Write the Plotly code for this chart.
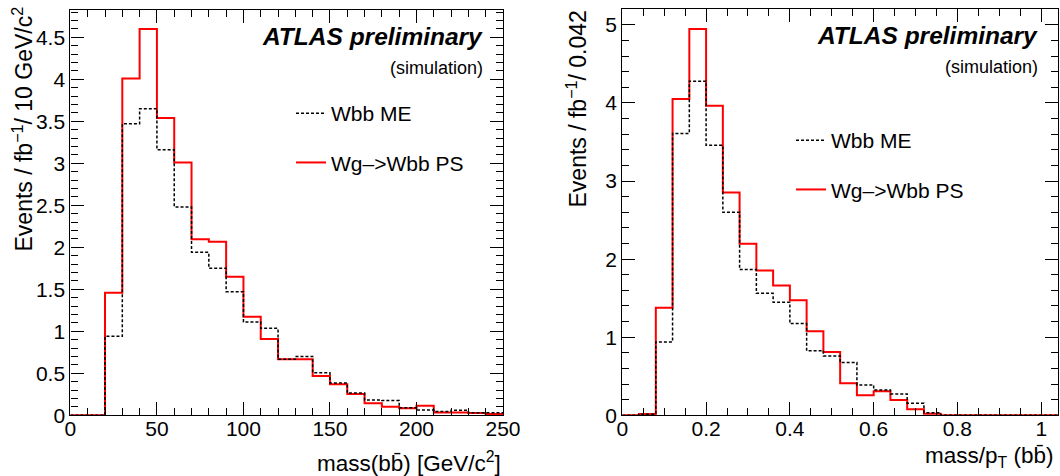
import numpy as np
import plotly.graph_objects as go

# ---------------- data ----------------
# Left: mass(bb) histogram, 25 bins of 10 GeV from 0 to 250
mass_lo, mass_hi, mass_w = 0.0, 250.0, 10.0
mass_me = [0.0, 0.0, 0.94, 3.47, 3.65, 3.16, 2.48, 1.94, 1.75, 1.47, 1.11, 1.035,
           0.667, 0.70, 0.507, 0.384, 0.265, 0.182, 0.175, 0.091, 0.063, 0.044,
           0.06, 0.03, 0.03]
mass_ps = [0.0, 0.0, 1.46, 4.01, 4.60, 3.54, 3.01, 2.095, 2.067, 1.65, 1.174, 0.908,
           0.667, 0.667, 0.468, 0.369, 0.254, 0.143, 0.103, 0.083, 0.115, 0.032,
           0.032, 0.028, 0.016]

# Right: mass/pT(bb) histogram, 26 bins of 0.04 from 0 to 1.04
ratio_lo, ratio_hi, ratio_w = 0.0, 1.04, 0.04
ratio_me = [0.0, 0.015, 0.94, 3.61, 4.28, 3.46, 2.60, 1.867, 1.564, 1.449, 1.175,
            0.828, 0.76, 0.675, 0.389, 0.325, 0.273, 0.154, 0.032, 0.0, 0.0, 0.0,
            0.0, 0.0, 0.0, 0.0]
ratio_ps = [0.0, 0.017, 1.376, 4.05, 4.948, 3.965, 2.854, 2.196, 1.854, 1.662, 1.474,
            1.077, 0.812, 0.41, 0.256, 0.307, 0.196, 0.077, 0.02, 0.0, 0.0, 0.0,
            0.0, 0.0, 0.0, 0.0]

name_me = "Wbb ME"
name_ps = "Wg–>Wbb PS"

left_xticks = [0, 50, 100, 150, 200, 250]
left_yticks = [0, 0.5, 1, 1.5, 2, 2.5, 3, 3.5, 4, 4.5]
right_xticks = [0, 0.2, 0.4, 0.6, 0.8, 1]
right_yticks = [0, 1, 2, 3, 4, 5]

# ---------------- figure ----------------
W, H = 1060, 476
FONT = "Liberation Sans, Arial, Helvetica, sans-serif"


def step_xy(lo, hi, vals):
    edges = np.linspace(lo, hi, len(vals) + 1)
    return edges, list(vals) + [vals[-1]]


fig = go.Figure()

# left panel
ex, ey = step_xy(mass_lo, mass_hi, mass_ps)
fig.add_trace(go.Scatter(x=ex, y=ey, mode="lines", line=dict(shape="hv", color="#ff0000", width=2),
                         name=name_ps, legendgroup="ps", legendrank=2, legend="legend",
                         xaxis="x", yaxis="y"))
ex, ey = step_xy(mass_lo, mass_hi, mass_me)
fig.add_trace(go.Scatter(x=ex, y=ey, mode="lines", line=dict(shape="hv", color="black", width=1.5, dash="3px,2px"),
                         name=name_me, legendgroup="me", legendrank=1, legend="legend",
                         xaxis="x", yaxis="y"))
# right panel
ex, ey = step_xy(ratio_lo, ratio_hi, ratio_ps)
fig.add_trace(go.Scatter(x=ex, y=ey, mode="lines", line=dict(shape="hv", color="#ff0000", width=2),
                         name=name_ps, legendgroup="ps2", legendrank=2, legend="legend2",
                         xaxis="x2", yaxis="y2"))
ex, ey = step_xy(ratio_lo, ratio_hi, ratio_me)
fig.add_trace(go.Scatter(x=ex, y=ey, mode="lines", line=dict(shape="hv", color="black", width=1.5, dash="3px,2px"),
                         name=name_me, legendgroup="me2", legendrank=1, legend="legend2",
                         xaxis="x2", yaxis="y2"))


def px_x(p):
    return p / W


def px_y(p):
    return 1 - p / H


common = dict(showline=True, linecolor="black", linewidth=1.2, mirror="ticks",
              ticks="inside", tickcolor="black", ticklen=13, tickwidth=1,
              showgrid=False, zeroline=False, automargin=False,
              tickfont=dict(family=FONT, size=21, color="black"))
minor_common = dict(ticklen=7, ticks="inside", tickcolor="black", tickwidth=1, showgrid=False)

fig.update_layout(
    template="none",
    width=W, height=H,
    margin=dict(l=0, r=0, t=0, b=0, autoexpand=False),
    paper_bgcolor="white", plot_bgcolor="white",
    font=dict(family=FONT, color="black"),
    xaxis=dict(domain=[px_x(70.4), px_x(503)], range=[mass_lo, mass_hi],
               tickvals=left_xticks, anchor="y", ticklabelstandoff=-6,
               minor=dict(dtick=10, **minor_common), **common),
    yaxis=dict(domain=[px_y(415.3), px_y(10)], range=[0, 4.825], anchor="x",
               tickvals=left_yticks,
               minor=dict(dtick=0.1, **minor_common), **common),
    xaxis2=dict(domain=[px_x(622.3), px_x(1058)], range=[ratio_lo, ratio_hi],
                tickvals=right_xticks, anchor="y2", ticklabelstandoff=-6,
                minor=dict(dtick=0.05, **minor_common), **common),
    yaxis2=dict(domain=[px_y(415.3), px_y(9.3)], range=[0, 5.2], anchor="x2",
                tickvals=right_yticks,
                minor=dict(dtick=0.2, **minor_common), **common),
    legend=dict(x=px_x(291), y=px_y(93), xanchor="left", yanchor="top",
                bgcolor="rgba(0,0,0,0)", borderwidth=0,
                font=dict(family=FONT, size=21, color="black"),
                traceorder="grouped", tracegroupgap=19),
    legend2=dict(x=px_x(791), y=px_y(120), xanchor="left", yanchor="top",
                 bgcolor="rgba(0,0,0,0)", borderwidth=0,
                 font=dict(family=FONT, size=21, color="black"),
                 traceorder="grouped", tracegroupgap=19),
    showlegend=True,
)

ann = []
# ATLAS labels
for xr, yc1, yc2 in [(485, 37, 68), (1040, 36, 67)]:
    ann.append(dict(x=px_x(xr), y=px_y(yc1), xref="paper", yref="paper", xanchor="right", yanchor="middle",
                    text="<b><i>ATLAS preliminary</i></b>", showarrow=False,
                    font=dict(family=FONT, size=24.5, color="black")))
    ann.append(dict(x=px_x(xr), y=px_y(yc2), xref="paper", yref="paper", xanchor="right", yanchor="middle",
                    text="(simulation)", showarrow=False,
                    font=dict(family=FONT, size=18, color="black")))
# axis titles
ann.append(dict(x=px_x(503), y=px_y(462), xref="paper", yref="paper", xanchor="right", yanchor="middle",
                text="mass(bb\u0304) [GeV/c<sup>2</sup>]", showarrow=False,
                font=dict(family=FONT, size=22.5, color="black")))
ann.append(dict(x=px_x(1055), y=px_y(457), xref="paper", yref="paper", xanchor="right", yanchor="middle",
                text="mass/p<sub>T</sub> (bb\u0304)", showarrow=False,
                font=dict(family=FONT, size=22.5, color="black")))
ann.append(dict(x=px_x(23), y=px_y(5), xref="paper", yref="paper", xanchor="center", yanchor="top",
                text="Events / fb<sup>−1</sup>/ 10 GeV/c<sup>2</sup>", showarrow=False, textangle=-90,
                font=dict(family=FONT, size=23, color="black")))
ann.append(dict(x=px_x(576), y=px_y(9), xref="paper", yref="paper", xanchor="center", yanchor="top",
                text="Events / fb<sup>−1</sup>/ 0.042", showarrow=False, textangle=-90,
                font=dict(family=FONT, size=23, color="black")))
fig.update_layout(annotations=ann)

fig.write_html("out.html")
